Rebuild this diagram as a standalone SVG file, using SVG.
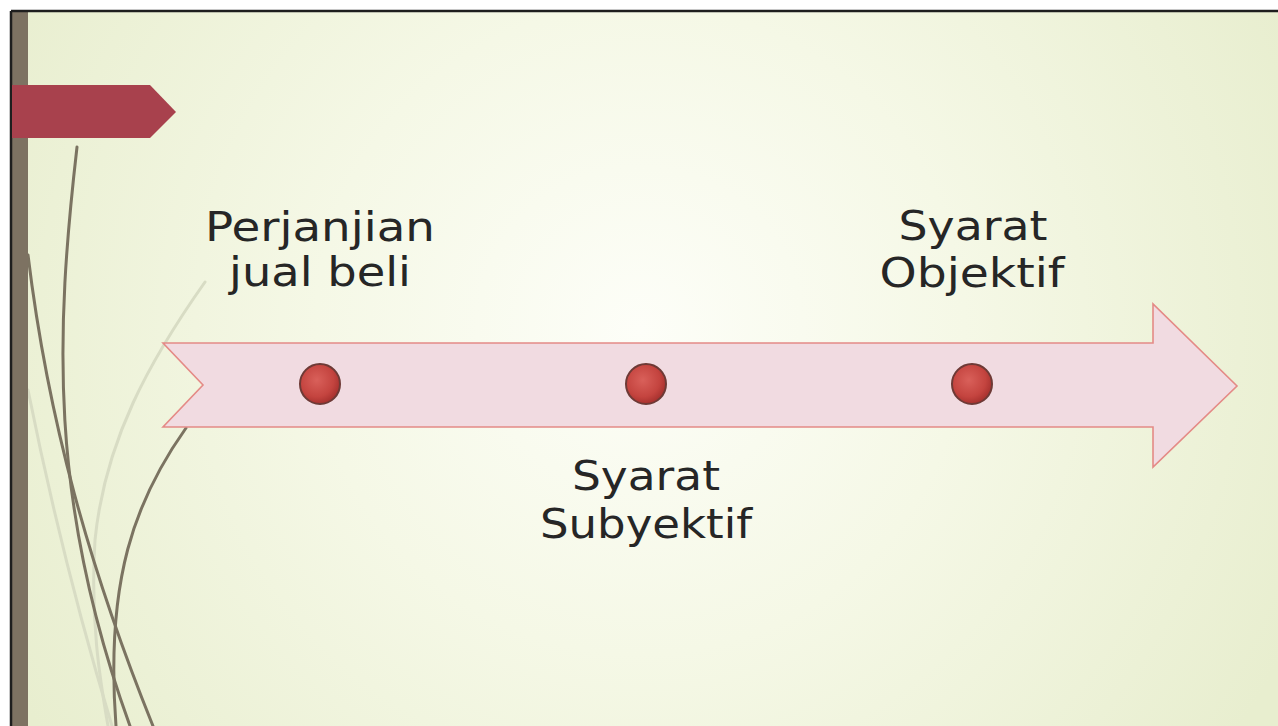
<svg xmlns="http://www.w3.org/2000/svg" width="1278" height="726" viewBox="0 0 1278 726">
  <defs>
    <radialGradient id="bg" cx="640" cy="330" r="720" gradientUnits="userSpaceOnUse">
      <stop offset="0" stop-color="#fdfef8"/>
      <stop offset="0.45" stop-color="#f5f8e6"/>
      <stop offset="1" stop-color="#e8eecf"/>
    </radialGradient>
    <radialGradient id="dot" cx="0.42" cy="0.4" r="0.6">
      <stop offset="0" stop-color="#d9605a"/>
      <stop offset="0.7" stop-color="#c4443f"/>
      <stop offset="1" stop-color="#a8322f"/>
    </radialGradient>
    <style>
      .lbl { font-family: "DejaVu Sans", "Liberation Sans", sans-serif; font-size: 40px; fill: #262626; text-anchor: middle; }
      .dot { fill: url(#dot); stroke: #6e3a36; stroke-width: 2; }
      .curve { fill: none; stroke: #7b7361; stroke-width: 3; stroke-linecap: round; }
      .pale { fill: none; stroke: #d8dcc4; stroke-width: 3; stroke-linecap: round; }
    </style>
  </defs>

  <!-- background -->
  <rect x="0" y="0" width="1278" height="726" fill="#ffffff"/>
  <rect x="10" y="11" width="1268" height="715" fill="url(#bg)"/>

  <!-- decorative curves -->
  <g id="curves">
    <path class="pale" d="M205,282 C150,360 105,440 95,540 C90,620 100,680 108,726"/>
    <path class="pale" d="M28,390 C50,500 80,620 112,726"/>
    <path class="curve" d="M28,255 C48,420 90,570 153,726"/>
    <path class="curve" d="M77,147 C56,330 48,500 130,726"/>
    <path class="curve" d="M186,428 C135,500 105,580 116,726"/>
  </g>

  <!-- frame -->
  <g id="frame">
    <rect x="12" y="12" width="16" height="714" fill="#7d7262"/>
    <line x1="11" y1="11" x2="1278" y2="11" stroke="#1e1e1e" stroke-width="2.5"/>
    <line x1="11" y1="11" x2="11" y2="726" stroke="#1e1e1e" stroke-width="2.5"/>
  </g>

  <!-- banner -->
  <g id="banner">
    <polygon points="12,85 150,85 176,112 150,138 12,138" fill="#a8414d"/>
  </g>

  <!-- timeline arrow -->
  <g id="arrow">
    <polygon points="163,343 1153,343 1153,304 1237,386 1153,467 1153,427 163,427 203,385" fill="#f1dbe1" stroke="#e48a86" stroke-width="1.6" stroke-linejoin="miter"/>
  </g>

  <!-- nodes -->
  <g id="node-perjanjian">
    <circle class="dot" cx="320" cy="384" r="20"/>
    <text class="lbl" x="320" y="241" textLength="230" lengthAdjust="spacingAndGlyphs">Perjanjian</text>
    <text class="lbl" x="320" y="286" textLength="182" lengthAdjust="spacingAndGlyphs">jual beli</text>
  </g>
  <g id="node-subyektif">
    <circle class="dot" cx="646" cy="384" r="20"/>
    <text class="lbl" x="646" y="490" textLength="148" lengthAdjust="spacingAndGlyphs">Syarat</text>
    <text class="lbl" x="646" y="538" textLength="212" lengthAdjust="spacingAndGlyphs">Subyektif</text>
  </g>
  <g id="node-objektif">
    <circle class="dot" cx="972" cy="384" r="20"/>
    <text class="lbl" x="973" y="240" textLength="149" lengthAdjust="spacingAndGlyphs">Syarat</text>
    <text class="lbl" x="972" y="287" textLength="185" lengthAdjust="spacingAndGlyphs">Objektif</text>
  </g>
</svg>
